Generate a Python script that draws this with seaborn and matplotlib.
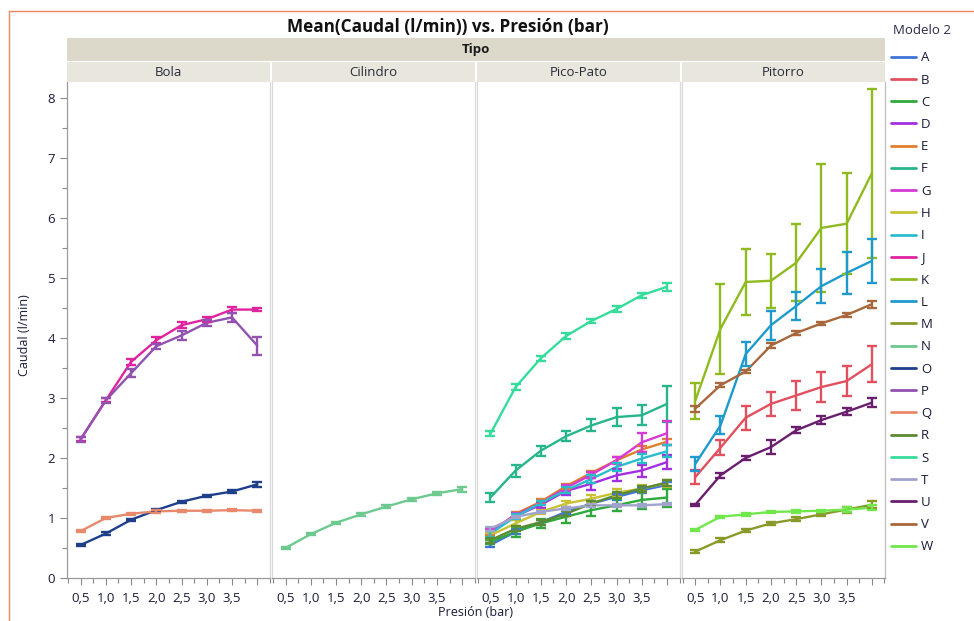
import numpy as np
import pandas as pd
import matplotlib
matplotlib.use("Agg")
import matplotlib.pyplot as plt
import seaborn as sns
from matplotlib.lines import Line2D
from matplotlib.ticker import FixedLocator

sns.set_theme(style="white")
plt.rcParams['font.family'] = ['Open Sans', 'DejaVu Sans']

# ---------------- data ----------------
presion = [0.5, 1.0, 1.5, 2.0, 2.5, 3.0, 3.5, 4.0]
presion_labels = ["0,5", "1,0", "1,5", "2,0", "2,5", "3,0", "3,5", ""]
tipos = ["Bola", "Cilindro", "Pico-Pato", "Pitorro"]
modelos = list("ABCDEFGHIJKLMNOPQRSTUVW")
colores = ["#3f73d9", "#e0505f", "#2fa83c", "#a22fe0", "#e07f2c", "#27b58c",
           "#d43bd6", "#c9c232", "#29bdcb", "#e0249f", "#8fba20", "#1f9acc",
           "#8a9a2a", "#6ec98f", "#1f3f8a", "#9252b0", "#e8896c", "#5c8a32",
           "#37dc9c", "#a0a3cc", "#6a1f6e", "#a8673c", "#70e84c"]
tipo_modelo = {"A": "Pico-Pato", "B": "Pitorro", "C": "Pico-Pato", "D": "Pico-Pato",
               "E": "Pico-Pato", "F": "Pico-Pato", "G": "Pico-Pato", "H": "Pico-Pato",
               "I": "Pico-Pato", "J": "Bola", "K": "Pitorro", "L": "Pitorro",
               "M": "Pitorro", "N": "Cilindro", "O": "Bola", "P": "Bola",
               "Q": "Bola", "R": "Pico-Pato", "S": "Pico-Pato", "T": "Pico-Pato",
               "U": "Pitorro", "V": "Pitorro", "W": "Pitorro"}

caudal_A = [0.55, 0.77, 0.93, 1.10, 1.24, 1.35, 1.46, 1.55]
caudal_B = [1.68, 2.17, 2.67, 2.90, 3.04, 3.18, 3.28, 3.56]
caudal_C = [0.60, 0.77, 0.91, 1.02, 1.13, 1.21, 1.30, 1.34]
caudal_D = [0.80, 1.03, 1.22, 1.45, 1.57, 1.71, 1.79, 1.93]
caudal_E = [0.74, 1.07, 1.27, 1.53, 1.75, 1.96, 2.14, 2.27]
caudal_F = [1.34, 1.79, 2.12, 2.36, 2.54, 2.68, 2.71, 2.90]
caudal_G = [0.78, 1.05, 1.25, 1.50, 1.72, 1.96, 2.26, 2.41]
caudal_H = [0.71, 0.91, 1.10, 1.24, 1.32, 1.42, 1.49, 1.58]
caudal_I = [0.74, 1.02, 1.25, 1.46, 1.65, 1.85, 1.99, 2.11]
caudal_J = [2.31, 2.96, 3.60, 3.96, 4.21, 4.31, 4.47, 4.47]
caudal_K = [2.95, 4.15, 4.93, 4.95, 5.25, 5.83, 5.90, 6.74]
caudal_L = [1.90, 2.54, 3.73, 4.21, 4.53, 4.86, 5.08, 5.28]
caudal_M = [0.44, 0.63, 0.79, 0.91, 0.98, 1.06, 1.14, 1.22]
caudal_N = [0.50, 0.73, 0.92, 1.06, 1.19, 1.31, 1.41, 1.48]
caudal_O = [0.55, 0.74, 0.97, 1.13, 1.27, 1.37, 1.44, 1.56]
caudal_P = [2.31, 2.96, 3.41, 3.86, 4.04, 4.25, 4.34, 3.87]
caudal_Q = [0.78, 1.00, 1.07, 1.11, 1.12, 1.12, 1.13, 1.12]
caudal_R = [0.63, 0.82, 0.93, 1.07, 1.24, 1.38, 1.49, 1.59]
caudal_S = [2.40, 3.18, 3.66, 4.03, 4.28, 4.48, 4.71, 4.85]
caudal_T = [0.82, 1.02, 1.10, 1.16, 1.21, 1.21, 1.21, 1.23]
caudal_U = [1.22, 1.71, 2.00, 2.18, 2.46, 2.63, 2.77, 2.92]
caudal_V = [2.82, 3.21, 3.44, 3.87, 4.08, 4.24, 4.38, 4.56]
caudal_W = [0.80, 1.02, 1.06, 1.10, 1.11, 1.12, 1.14, 1.17]

err_A = [0.04, 0.04, 0.04, 0.04, 0.04, 0.05, 0.05, 0.05]
err_B = [0.12, 0.12, 0.20, 0.20, 0.24, 0.25, 0.25, 0.30]
err_C = [0.04, 0.08, 0.08, 0.10, 0.10, 0.10, 0.15, 0.15]
err_D = [0.04, 0.04, 0.05, 0.06, 0.10, 0.10, 0.10, 0.12]
err_E = [0.03, 0.03, 0.04, 0.04, 0.04, 0.05, 0.05, 0.05]
err_F = [0.07, 0.10, 0.08, 0.08, 0.10, 0.15, 0.17, 0.30]
err_G = [0.03, 0.03, 0.04, 0.05, 0.05, 0.06, 0.16, 0.20]
err_H = [0.04, 0.05, 0.04, 0.05, 0.06, 0.07, 0.06, 0.06]
err_I = [0.05, 0.04, 0.04, 0.05, 0.06, 0.06, 0.07, 0.10]
err_J = [0.03, 0.03, 0.05, 0.05, 0.05, 0.04, 0.05, 0.02]
err_K = [0.30, 0.75, 0.55, 0.45, 0.64, 1.07, 0.84, 1.41]
err_L = [0.12, 0.15, 0.20, 0.24, 0.23, 0.28, 0.35, 0.36]
err_M = [0.02, 0.03, 0.03, 0.03, 0.03, 0.03, 0.05, 0.06]
err_N = [0.02, 0.02, 0.02, 0.02, 0.02, 0.02, 0.02, 0.04]
err_O = [0.02, 0.02, 0.02, 0.02, 0.02, 0.02, 0.02, 0.04]
err_P = [0.04, 0.04, 0.07, 0.04, 0.07, 0.05, 0.08, 0.15]
err_Q = [0.02, 0.02, 0.02, 0.02, 0.02, 0.02, 0.02, 0.02]
err_R = [0.04, 0.04, 0.04, 0.04, 0.04, 0.05, 0.05, 0.05]
err_S = [0.04, 0.05, 0.04, 0.05, 0.04, 0.05, 0.04, 0.07]
err_T = [0.03, 0.02, 0.02, 0.02, 0.02, 0.02, 0.02, 0.02]
err_U = [0.02, 0.04, 0.04, 0.12, 0.05, 0.06, 0.06, 0.07]
err_V = [0.05, 0.03, 0.03, 0.04, 0.03, 0.03, 0.03, 0.06]
err_W = [0.02, 0.02, 0.02, 0.02, 0.02, 0.02, 0.04, 0.04]

# ---------------- long table ----------------
rows = []
g = globals()
for m in modelos:
    for p, c, e in zip(presion, g["caudal_" + m], g["err_" + m]):
        rows.append({"Tipo": tipo_modelo[m], "Modelo 2": m, "Presion": p,
                     "Caudal": c, "Err": e})
df = pd.DataFrame(rows)
palette = dict(zip(modelos, colores))

# ---------------- figure / layout (pixel helpers) ----------------
W, H = 974, 621
fig = plt.figure(figsize=(W / 100, H / 100), dpi=100)
fig.patch.set_facecolor("white")

def rect(x0, y0, x1, y1):
    return [x0 / W, 1 - y1 / H, (x1 - x0) / W, (y1 - y0) / H]

left, right = 67, 885
top_plot, bot_plot = 82, 578
gap = 1.5
pw = (right - left - 3 * gap) / 4

axes = []
for i, t in enumerate(tipos):
    x0 = left + i * (pw + gap)
    ax = fig.add_axes(rect(x0, top_plot, x0 + pw, bot_plot))
    axes.append(ax)
    sub = df[df["Tipo"] == t]
    sns.lineplot(data=sub, x="Presion", y="Caudal", hue="Modelo 2",
                 palette={m: palette[m] for m in sub["Modelo 2"].unique()},
                 ax=ax, legend=False, errorbar=None, lw=1.7, sort=False)
    for m in sub["Modelo 2"].unique():
        s = sub[sub["Modelo 2"] == m]
        ax.errorbar(s["Presion"], s["Caudal"], yerr=s["Err"], fmt="none",
                    ecolor=palette[m], elinewidth=1.7, capsize=3.3, capthick=1.7)
    ax.set_xlim(0.23, 4.26)
    ax.set_ylim(0, 8.26)
    ax.set_xlabel("")
    ax.set_ylabel("")
    ax.set_facecolor("white")
    ax.xaxis.set_major_locator(FixedLocator(presion))
    ax.set_xticklabels(presion_labels)
    ax.xaxis.set_minor_locator(FixedLocator([0.25 + 0.5 * k for k in range(9)]))
    ax.tick_params(axis="x", which="major", direction="out", length=5, width=0.8,
                   color="#8a8a8a", labelsize=9.5, labelcolor="#1a1a3a", pad=5,
                   bottom=True)
    ax.tick_params(axis="x", which="minor", direction="out", length=3.5, width=0.8,
                   color="#8a8a8a", bottom=True)
    for side in ["top", "left", "right", "bottom"]:
        ax.spines[side].set_visible(True)
        ax.spines[side].set_linewidth(0.9)
    ax.spines["top"].set_visible(False)
    ax.spines["left"].set_color("#d9d9d9")
    ax.spines["right"].set_color("#d9d9d9")
    ax.spines["bottom"].set_color("#9a9a9a")
    if i == 0:
        ax.spines["left"].set_color("#9a9a9a")
        ax.yaxis.set_major_locator(FixedLocator(range(0, 9)))
        ax.yaxis.set_minor_locator(FixedLocator([0.5 + k for k in range(8)]))
        ax.tick_params(axis="y", which="major", direction="out", length=5, width=0.8,
                       color="#8a8a8a", labelsize=9.5, labelcolor="#1a1a3a", left=True)
        ax.tick_params(axis="y", which="minor", direction="out", length=3.5, width=0.8,
                       color="#8a8a8a", left=True)
    else:
        ax.set_yticks([])
    if i == 3:
        ax.spines["right"].set_color("#bdbdbd")

# ---------------- strips ----------------
band = fig.add_axes(rect(left, 38, right, 61))
band.set_facecolor("#dcd9ca")
band.set_xticks([]); band.set_yticks([])
for s in band.spines.values():
    s.set_visible(False)
band.text(0.5, 0.5, "Tipo", ha="center", va="center", fontsize=9.5,
          fontweight="bold", color="#1a1a1a", transform=band.transAxes)

for i, t in enumerate(tipos):
    x0 = left + i * (pw + gap)
    st = fig.add_axes(rect(x0, 62, x0 + pw, 82))
    st.set_facecolor("#e8e6dd")
    st.set_xticks([]); st.set_yticks([])
    for s in st.spines.values():
        s.set_visible(False)
    st.text(0.5, 0.5, t, ha="center", va="center", fontsize=9.5,
            color="#2a2a3a", transform=st.transAxes)

# ---------------- titles / labels ----------------
fig.text(448 / W, 1 - 27 / H, "Mean(Caudal (l/min)) vs. Presión (bar)",
         ha="center", va="center", fontsize=12.3, fontweight="bold", color="#111111")
fig.text(25 / W, 1 - 335 / H, "Caudal (l/min)", rotation=90, ha="center",
         va="center", fontsize=9, color="#1a1a3a")
fig.text(476 / W, 1 - 613 / H, "Presión (bar)", ha="center", va="center",
         fontsize=9, color="#1a1a3a")

# ---------------- legend ----------------
fig.text(893 / W, 1 - 30 / H, "Modelo 2", ha="left", va="center",
         fontsize=9.5, color="#2a2a4a")
handles = [Line2D([0], [0], color=palette[m], lw=2) for m in modelos]
leg = fig.legend(handles, modelos, loc="upper left",
                 bbox_to_anchor=(886 / W, 1 - 46 / H), frameon=False,
                 fontsize=9.5, handlelength=1.9,
                 handletextpad=0.35, labelspacing=0.70, borderaxespad=0)
for txt in leg.get_texts():
    txt.set_color("#1a1a3a")

# ---------------- outer selection frame ----------------
fig.add_artist(Line2D([9 / W, 1.0], [1 - 11 / H, 1 - 11 / H], color="#f0865a",
                      lw=1.0, transform=fig.transFigure))
fig.add_artist(Line2D([9 / W, 9 / W], [0.0, 1 - 11 / H], color="#f0865a",
                      lw=1.0, transform=fig.transFigure))

fig.savefig("out.png", dpi=100, facecolor="white")
